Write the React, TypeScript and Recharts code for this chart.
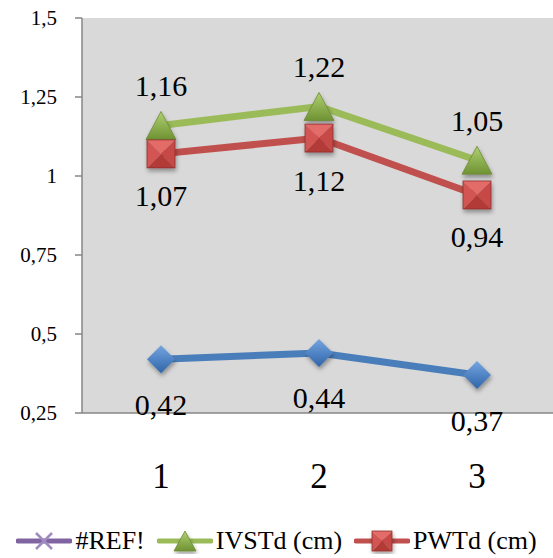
import { LineChart, Line, XAxis, YAxis, CartesianGrid, LabelList } from 'recharts'

const categories = ['1', '2', '3']
const blueValues = [0.42, 0.44, 0.37]
const ivstdValues = [1.16, 1.22, 1.05]
const pwtdValues = [1.07, 1.12, 0.94]
const yTicks = [0.25, 0.5, 0.75, 1, 1.25, 1.5]
const legendNames = ['#REF!', 'IVSTd (cm)', 'PWTd (cm)']

const FONT = 'Liberation Serif, Times New Roman, Times, serif'
const comma = (v: number) => String(v).replace('.', ',')

const data = categories.map((c, i) => ({
  cat: c,
  blue: blueValues[i],
  ivstd: ivstdValues[i],
  pwtd: pwtdValues[i],
}))

function Diamond({ cx, cy }: any) {
  if (cx == null || cy == null) return null
  const r = 14
  return (
    <g filter="url(#shadow)">
      <polygon points={`${cx},${cy - r} ${cx + r},${cy} ${cx},${cy + r} ${cx - r},${cy}`} fill="url(#gBlue)" />
    </g>
  )
}

function Triangle({ cx, cy, size = 14 }: any) {
  if (cx == null || cy == null) return null
  const s = size
  return (
    <g filter="url(#shadow)">
      <polygon points={`${cx},${cy - s} ${cx + s + 1},${cy + s} ${cx - s - 1},${cy + s}`} fill="url(#gGreen)" stroke="#6e8a35" strokeWidth={0.8} />
    </g>
  )
}

function Square({ cx, cy, size = 14 }: any) {
  if (cx == null || cy == null) return null
  const r = size
  const l = cx - r, t = cy - r, rr = cx + r, b = cy + r
  return (
    <g filter="url(#shadow)">
      <polygon points={`${l},${t} ${rr},${t} ${cx},${cy}`} fill="#e36c69" />
      <polygon points={`${rr},${t} ${rr},${b} ${cx},${cy}`} fill="#c64a47" />
      <polygon points={`${l},${b} ${rr},${b} ${cx},${cy}`} fill="#b23a37" />
      <polygon points={`${l},${t} ${l},${b} ${cx},${cy}`} fill="#d35552" />
      <rect x={l} y={t} width={2 * r} height={2 * r} fill="none" stroke="#8e2e2c" strokeWidth={0.8} />
    </g>
  )
}

const makeLabel = (dy: number) => (props: any) => {
  const { x, y, value } = props
  return (
    <text x={x} y={y + dy} textAnchor="middle" dominantBaseline="central" style={{ fontFamily: FONT }} fontSize={30} fill="#000">
      {comma(value)}
    </text>
  )
}

function YTick({ x, y, payload }: any) {
  return (
    <text x={x} y={y} textAnchor="end" dominantBaseline="central" style={{ fontFamily: FONT }} fontSize={21} fill="#000">
      {comma(payload.value)}
    </text>
  )
}

function XTick({ x, y, payload }: any) {
  return (
    <text x={x} y={y + 55} textAnchor="middle" dominantBaseline="central" style={{ fontFamily: FONT }} fontSize={35} fill="#000">
      {payload.value}
    </text>
  )
}

const legendColors = ['#8064a2', '#9bbb59', '#c0504d']

function LegendIcon({ i }: { i: number }) {
  return (
    <svg width={56} height={26} style={{ display: 'block' }}>
      <line x1={2} y1={13} x2={54} y2={13} stroke={legendColors[i]} strokeWidth={5} strokeLinecap="round" />
      {i === 0 && (
        <g stroke="#a08bc0" strokeWidth={2.5}>
          <line x1={20} y1={5} x2={36} y2={21} />
          <line x1={36} y1={5} x2={20} y2={21} />
        </g>
      )}
      {i === 1 && <Triangle cx={28} cy={13} size={10} />}
      {i === 2 && <Square cx={28} cy={13} size={10} />}
    </svg>
  )
}

export default function App() {
  return (
    <div style={{ position: 'absolute', left: 0, top: 0, width: 553, height: 558, overflow: 'hidden', background: '#fff', fontFamily: FONT }}>
      <svg width={0} height={0} style={{ position: 'absolute' }}>
        <defs>
          <linearGradient id="gBlue" x1="0" y1="0" x2="0" y2="1">
            <stop offset="0" stopColor="#74a5e0" />
            <stop offset="1" stopColor="#2f64a8" />
          </linearGradient>
          <linearGradient id="gGreen" x1="0" y1="0" x2="0" y2="1">
            <stop offset="0" stopColor="#aed070" />
            <stop offset="1" stopColor="#6f9233" />
          </linearGradient>
          <filter id="shadow" x="-50%" y="-50%" width="200%" height="200%">
            <feDropShadow dx={1} dy={3} stdDeviation={2} floodColor="#000" floodOpacity={0.35} />
          </filter>
        </defs>
      </svg>
      <LineChart width={556} height={558} data={data} margin={{ top: 18, right: 0, left: 0, bottom: 0 }}>
        <CartesianGrid fill="#d9d9d9" horizontal={false} vertical={false} />
        <XAxis
          dataKey="cat"
          height={145}
          padding={{ left: 79, right: 79 }}
          tickLine={false}
          axisLine={{ stroke: '#868686', strokeWidth: 1.5 }}
          tick={<XTick />}
          interval={0}
        />
        <YAxis
          width={82}
          domain={[0.25, 1.5]}
          ticks={yTicks}
          tickSize={7}
          tickMargin={18}
          axisLine={{ stroke: '#868686', strokeWidth: 1.5 }}
          tickLine={{ stroke: '#868686', strokeWidth: 1.5 }}
          tick={<YTick />}
          interval={0}
        />
        <Line dataKey="blue" stroke="#4a7ebb" strokeWidth={7} dot={<Diamond />} activeDot={false} isAnimationActive={false}>
          <LabelList dataKey="blue" content={makeLabel(45)} />
        </Line>
        <Line dataKey="ivstd" stroke="#9bbb59" strokeWidth={7} dot={<Triangle />} activeDot={false} isAnimationActive={false}>
          <LabelList dataKey="ivstd" content={makeLabel(-40)} />
        </Line>
        <Line dataKey="pwtd" stroke="#c0504d" strokeWidth={7} dot={<Square />} activeDot={false} isAnimationActive={false}>
          <LabelList dataKey="pwtd" content={makeLabel(42)} />
        </Line>
      </LineChart>
      <div
        style={{
          position: 'absolute',
          left: 0,
          top: 527,
          width: 553,
          height: 28,
          display: 'flex',
          justifyContent: 'center',
          alignItems: 'center',
          gap: 12,
          fontFamily: FONT,
          fontSize: 26,
          lineHeight: 1,
          color: '#000',
          whiteSpace: 'nowrap',
        }}
      >
        {legendNames.map((n, i) => (
          <div key={n} style={{ display: 'flex', alignItems: 'center', gap: 3 }}>
            <LegendIcon i={i} />
            <span>{n}</span>
          </div>
        ))}
      </div>
    </div>
  )
}
